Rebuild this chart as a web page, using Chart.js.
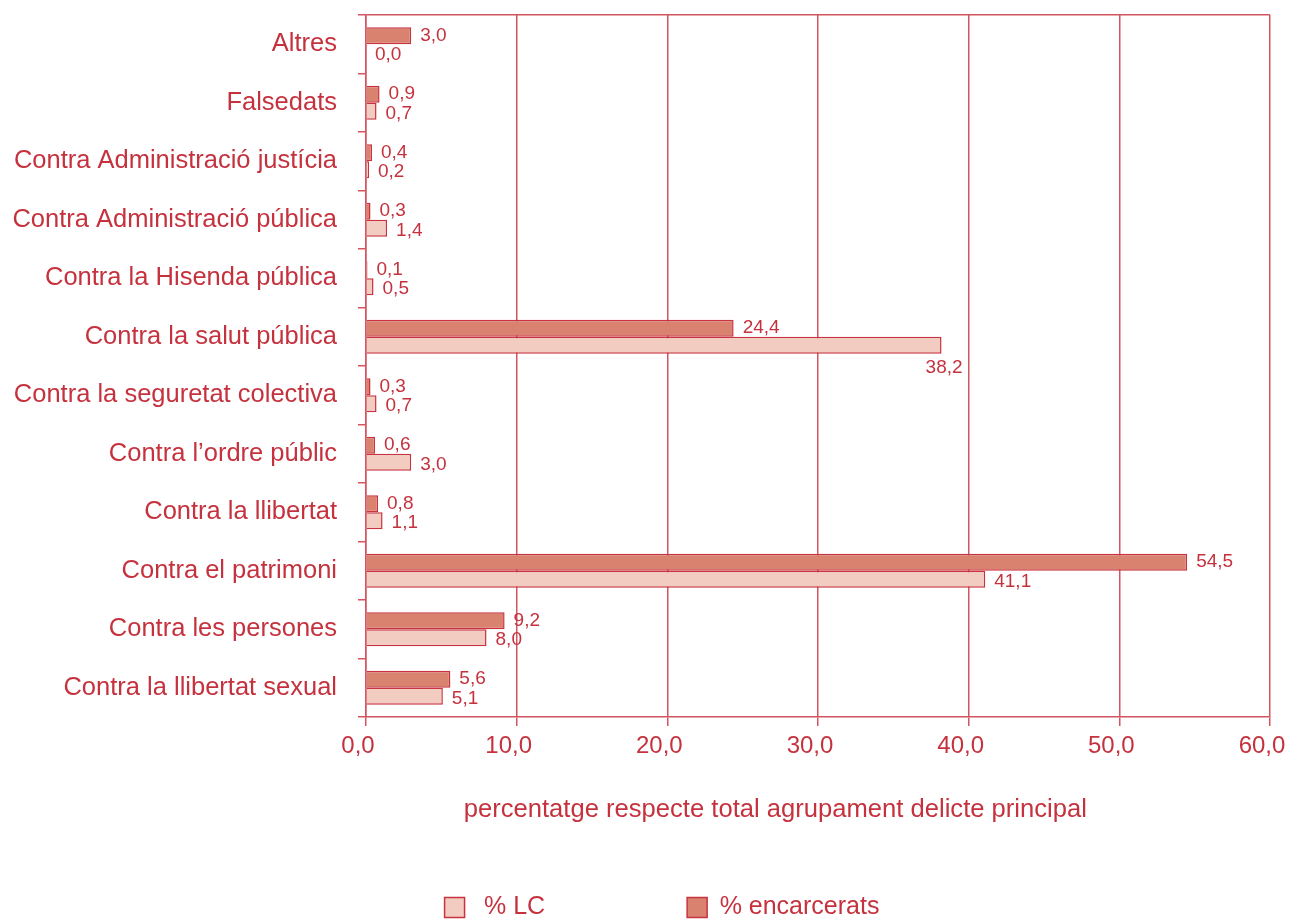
<!DOCTYPE html>
<html>
<head>
<meta charset="utf-8">
<script src="https://cdn.jsdelivr.net/npm/chart.js@4.4.1/dist/chart.umd.min.js"></script>
<style>
html,body{margin:0;padding:0;background:#fff;}
#wrap{width:1289px;height:919px;position:relative;}
</style>
</head>
<body>
<div id="wrap"><canvas id="c" width="1289" height="919"></canvas></div>
<script>
const categories = [
  'Altres',
  'Falsedats',
  'Contra Administració justícia',
  'Contra Administració pública',
  'Contra la Hisenda pública',
  'Contra la salut pública',
  'Contra la seguretat colectiva',
  'Contra l\u2019ordre públic',
  'Contra la llibertat',
  'Contra el patrimoni',
  'Contra les persones',
  'Contra la llibertat sexual'
];
const encarcerats = [3.0, 0.9, 0.4, 0.3, 0.1, 24.4, 0.3, 0.6, 0.8, 54.5, 9.2, 5.6];
const lc = [0.0, 0.7, 0.2, 1.4, 0.5, 38.2, 0.7, 3.0, 1.1, 41.1, 8.0, 5.1];
const xTicks = [0, 10, 20, 30, 40, 50, 60];
const xTitle = 'percentatge respecte total agrupament delicte principal';

const TEXT = '#c5323e';
const GRID = '#d2555f';
const BORDER = '#c8333f';
const DARK = '#d98270';
const LIGHT = '#f2ccc0';
const FONT = '"Liberation Sans", Arial, Helvetica, sans-serif';
const fmt = v => v.toFixed(1).replace('.', ',');

const valueLabels = {
  id: 'valueLabels',
  afterDatasetsDraw(chart, args, opts) {
    const ctx = chart.ctx;
    ctx.save();
    ctx.fillStyle = TEXT;
    ctx.font = '19px ' + FONT;
    ctx.textBaseline = 'middle';
    chart.data.datasets.forEach((ds, di) => {
      const meta = chart.getDatasetMeta(di);
      meta.data.forEach((bar, i) => {
        const v = ds.data[i];
        const txt = fmt(v);
        if (opts.below && opts.below.datasetIndex === di && opts.below.index === i) {
          ctx.textAlign = 'right';
          ctx.fillText(txt, bar.x + 21, bar.y + bar.height / 2 + 14);
        } else {
          ctx.textAlign = 'left';
          ctx.fillText(txt, bar.x + 9, bar.y + (di === 1 ? 2 : 0));
        }
      });
    });
    ctx.restore();
  }
};

new Chart(document.getElementById('c'), {
  type: 'bar',
  data: {
    labels: categories,
    datasets: [
      {
        label: '% encarcerats',
        data: encarcerats,
        backgroundColor: DARK,
        borderColor: BORDER,
        borderWidth: 1.5,
        categoryPercentage: 0.585,
        barPercentage: 1.0
      },
      {
        label: ' % LC' + '\u00a0'.repeat(19) + '\u2009',
        data: lc,
        backgroundColor: LIGHT,
        borderColor: BORDER,
        borderWidth: 1.5,
        categoryPercentage: 0.585,
        barPercentage: 1.0
      }
    ]
  },
  options: {
    indexAxis: 'y',
    responsive: false,
    animation: false,
    devicePixelRatio: 1,
    layout: { padding: { left: 0, right: -35, top: 15, bottom: -11 } },
    scales: {
      x: {
        type: 'linear',
        min: 0,
        max: 60,
        afterBuildTicks: s => { s.ticks = xTicks.map(v => ({ value: v })); },
        afterFit: s => { s.height = 173; s.paddingLeft = 0; s.paddingRight = 19; },
        ticks: {
          color: TEXT,
          font: { family: FONT, size: 24 },
          padding: 6,
          labelOffset: -8,
          callback: v => fmt(v)
        },
        grid: { color: GRID, lineWidth: 1.5, tickLength: 9, tickColor: GRID },
        border: { color: GRID, width: 1.5 },
        title: {
          display: true,
          text: xTitle + '\u00a0'.repeat(12),
          color: TEXT,
          font: { family: FONT, size: 25.6 },
          padding: { top: 0, bottom: 65 }
        }
      },
      y: {
        type: 'category',
        offset: true,
        afterFit: s => { s.width = 366; s.paddingTop = 0; s.paddingBottom = 0; },
        ticks: {
          color: TEXT,
          font: { family: FONT, size: 25.5 },
          padding: 21
        },
        grid: {
          offset: true,
          lineWidth: 1.5,
          tickLength: 8,
          tickColor: GRID,
          color: c => (c.index === 0 || c.index === categories.length) ? GRID : 'rgba(0,0,0,0)'
        },
        border: { color: GRID, width: 1.5 }
      }
    },
    plugins: {
      legend: {
        position: 'bottom',
        reverse: true,
        labels: {
          color: TEXT,
          font: { family: FONT, size: 25 },
          boxWidth: 20,
          boxHeight: 20,
          padding: 5
        }
      },
      tooltip: { enabled: false },
      valueLabels: { below: { datasetIndex: 1, index: 5 } }
    }
  },
  plugins: [valueLabels]
});
</script>
</body>
</html>
